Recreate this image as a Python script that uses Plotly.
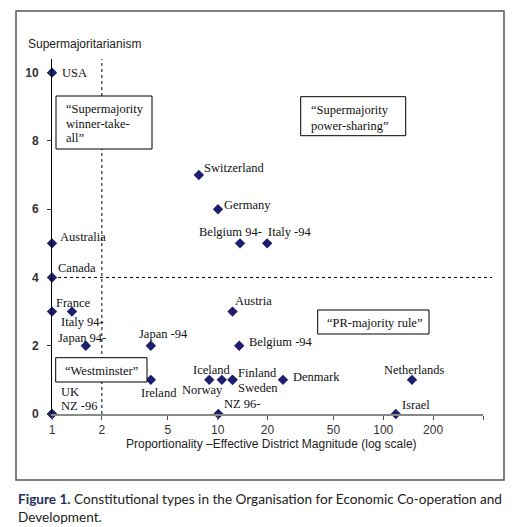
import numpy as np
import plotly.graph_objects as go

# ---- data ----
countries = ["USA", "Australia", "Canada", "France", "Italy 94-", "Japan 94-", "Japan -94",
             "Ireland", "UK", "NZ -96", "Norway", "Iceland", "Finland", "Sweden", "Denmark",
             "Netherlands", "Israel", "NZ 96-", "Austria", "Belgium -94", "Switzerland",
             "Germany", "Belgium 94-", "Italy -94"]
magnitude = [1, 1, 1, 1, 1.32, 1.6, 3.95,
             3.95, 1, 1, 8.9, 10.6, 12.3, 12.3, 24.8,
             149, 119, 10.1, 12.3, 13.5, 7.7,
             10.05, 13.65, 19.9]
supermaj = [10, 5, 4, 3, 3, 2, 2,
            1, 0, 0, 1, 1, 1, 1, 1,
            1, 0, 0, 3, 2, 7,
            6, 5, 5]
x_ticks = [1, 2, 5, 10, 20, 50, 100, 200, 400]
x_ticklabels = ["1", "2", "5", "10", "20", "50", "100", "200", ""]
y_ticks = [0, 2, 4, 6, 8, 10]
quadrants = [["\u201cSupermajority", "winner-take-", "all\u201d"],
             ["\u201cSupermajority", "power-sharing\u201d"],
             ["\u201cPR-majority rule\u201d"],
             ["\u201cWestminster\u201d"]]

# ---- layout helpers (pixel geometry of the reference page) ----
OFF = 8  # page body margin of the browser
W, H = 514 - OFF, 527 - OFF
L, R, T, B = 52, 483, 59, 414


def px(x):
    return (x - L) / (R - L)


def py(y):
    return (B - y) / (B - T)


SERIF = "Liberation Serif, Times New Roman, serif"
SANS = "Liberation Sans, Arial, sans-serif"
CAPF = "Lato, Open Sans, sans-serif"

# label offsets: (xanchor, dx, dy) in px, dy positive = up
label_style = {
    "USA": ("left", 9, 0), "Australia": ("left", 7, 6), "Canada": ("left", 5, 9),
    "France": ("left", 3, 9), "Italy 94-": ("center", 10.5, -10), "Japan 94-": ("center", -4, 8),
    "Japan -94": ("center", 12.5, 12), "Ireland": ("center", 8.5, -13), "UK": ("left", 8, 22),
    "NZ -96": ("left", 8, 8), "Norway": ("center", -7, -10), "Iceland": ("center", -10, 10),
    "Finland": ("left", 4, 6.6), "Sweden": ("left", 4, -7.8), "Denmark": ("left", 9, 2.6),
    "Netherlands": ("center", 3, 10), "Israel": ("left", 5, 9), "NZ 96-": ("left", 5, 10),
    "Austria": ("left", 1, 10.7), "Belgium -94": ("left", 9, 4), "Switzerland": ("left", 4, 6.7),
    "Germany": ("left", 5, 4.6), "Belgium 94-": ("center", -10, 11), "Italy -94": ("left", 0, 11),
}

fig = go.Figure()

# vertical dotted line at magnitude 2
fig.add_trace(go.Scatter(x=[2, 2], y=[0, 10.4], mode="lines",
                         line=dict(color="black", width=1, dash="dot"),
                         hoverinfo="skip", showlegend=False))

fig.add_trace(go.Scatter(x=magnitude, y=supermaj, mode="markers", text=countries,
                         marker=dict(symbol="diamond", size=8, color="#1e1e6e"),
                         cliponaxis=False, showlegend=False))

annotations = []
for name, xv, yv in zip(countries, magnitude, supermaj):
    xa, dx, dy = label_style[name]
    annotations.append(dict(x=np.log10(xv), y=yv, xref="x", yref="y", text=name,
                            showarrow=False, xanchor=xa, yanchor="middle",
                            xshift=dx, yshift=dy, borderpad=0,
                            font=dict(family=SERIF, size=12.5, color="#111")))

# quadrant boxes
boxes = [(56, 96, 152, 149), (300.7, 96.7, 405.7, 135.7), (317.7, 310, 429, 334), (55.7, 357.7, 147, 382)]
box_text = [
    [(65, 109, "left"), (65, 124, "left"), (65, 138.3, "left")],
    [(310, 110, "left"), (310, 126, "left")],
    [(374, 323, "center")],
    [(101.8, 370.5, "center")],
]
shapes = []
for (x0, y0, x1, y1), lines, pos in zip(boxes, quadrants, box_text):
    shapes.append(dict(type="rect", xref="paper", yref="paper", x0=px(x0), x1=px(x1),
                       y0=py(y1), y1=py(y0), line=dict(color="black", width=1),
                       fillcolor="white", layer="above"))
    for line, (lx, ly, anc) in zip(lines, pos):
        annotations.append(dict(x=px(lx), y=py(ly), xref="paper", yref="paper", text=line,
                                showarrow=False, xanchor=anc, yanchor="middle", borderpad=0,
                                font=dict(family=SERIF, size=12.5, color="#111")))

# horizontal dotted line at 4
shapes.append(dict(type="line", xref="paper", yref="y", x0=0, x1=px(492), y0=4, y1=4,
                   line=dict(color="black", width=1, dash="dot"), layer="below"))
# outer frame
shapes.append(dict(type="rect", xref="paper", yref="paper", x0=px(16), x1=px(504),
                   y0=py(480), y1=py(11), line=dict(color="#555", width=1.5)))

# titles
annotations.append(dict(x=px(26), y=py(44), xref="paper", yref="paper", text="Supermajoritarianism",
                        showarrow=False, xanchor="left", yanchor="middle",
                        font=dict(family=SANS, size=12, color="#222")))
annotations.append(dict(x=px(271.5), y=py(444), xref="paper", yref="paper",
                        text="Proportionality \u2013Effective District Magnitude (log scale)",
                        showarrow=False, xanchor="center", yanchor="middle",
                        font=dict(family=SANS, size=12, color="#222")))
# caption
annotations.append(dict(x=px(16), y=py(499), xref="paper", yref="paper",
                        text="<b><span style='color:#1f2f5f'>Figure 1.</span></b> Constitutional types in the Organisation for Economic Co-operation and",
                        showarrow=False, xanchor="left", yanchor="middle",
                        font=dict(family=CAPF, size=13.6, color="#222")))
annotations.append(dict(x=px(16), y=py(517), xref="paper", yref="paper", text="Development.",
                        showarrow=False, xanchor="left", yanchor="middle",
                        font=dict(family=CAPF, size=13.6, color="#222")))

fig.update_layout(
    width=W, height=H,
    margin=dict(l=L - OFF, r=W - (R - OFF), t=T - OFF, b=H - (B - OFF)),
    paper_bgcolor="white", plot_bgcolor="white",
    showlegend=False,
    annotations=annotations, shapes=shapes,
    xaxis=dict(type="log", range=[0, np.log10(400)], tickvals=x_ticks, ticktext=x_ticklabels,
               showgrid=False, zeroline=False, showline=True, linecolor="#888", linewidth=2,
               ticks="outside", ticklen=4, tickcolor="#555", tickwidth=1,
               tickfont=dict(family=SANS, size=12, color="#333")),
    yaxis=dict(range=[0, 10.4], tickvals=y_ticks, showgrid=False, zeroline=False,
               showline=True, linecolor="black", linewidth=1,
               ticks="outside", ticklen=4, tickcolor="#333", ticklabelstandoff=6,
               tickfont=dict(family=SANS, size=12, color="#333", weight="bold")),
)

fig.write_html("out.html")
